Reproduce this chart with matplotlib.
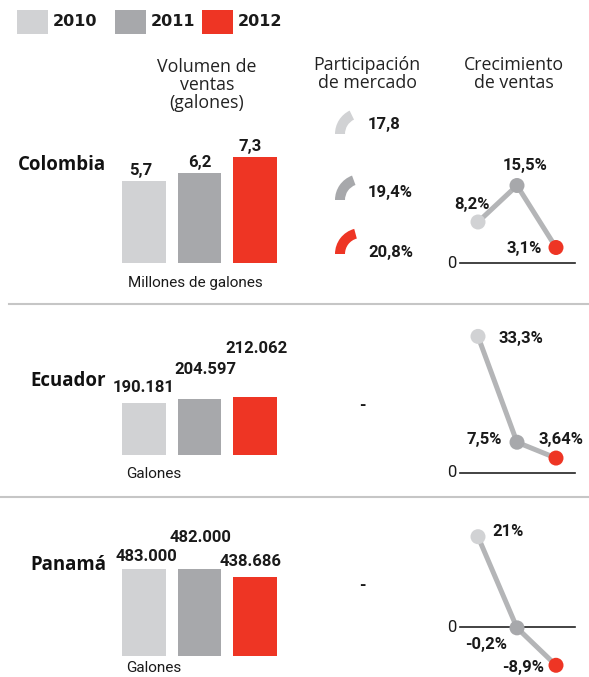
import matplotlib
matplotlib.use("Agg")
import matplotlib.pyplot as plt
from matplotlib.patches import Rectangle, Wedge

# ---- data ----
years = ["2010", "2011", "2012"]
countries = ["Colombia", "Ecuador", "Panamá"]
volume_colombia = [5.7, 6.2, 7.3]            # millones de galones
volume_ecuador = [190181, 204597, 212062]    # galones
volume_panama = [483000, 482000, 438686]     # galones
volume_units = ["Millones de galones", "Galones", "Galones"]
share_colombia = [17.8, 19.4, 20.8]
share_labels = ["17,8", "19,4%", "20,8%"]
growth_colombia = [8.2, 15.5, 3.1]
growth_ecuador = [33.3, 7.5, 3.64]
growth_panama = [21, -0.2, -8.9]
growth_labels = [["8,2%", "15,5%", "3,1%"],
                 ["33,3%", "7,5%", "3,64%"],
                 ["21%", "-0,2%", "-8,9%"]]

colors = ["#d1d2d4", "#a7a8ab", "#ee3524"]
line_color = "#b4b5b7"
text_color = "#1a1a1a"

W, H = 589, 677
fig = plt.figure(figsize=(W / 100, H / 100), dpi=100)
fig.patch.set_facecolor("white")


def px_axes(left, top, right, bottom):
    ax = fig.add_axes([left / W, 1 - bottom / H, (right - left) / W, (bottom - top) / H])
    ax.axis("off")
    return ax


def fmt_thousands(v):
    return f"{v:,}".replace(",", ".")


NUM = dict(family="Roboto", fontweight="bold", fontsize=12, color=text_color)

# ---- bars ----
bar_rows = [
    # values, labels, baseline px, ymax, label offsets (dx, dy) px
    (volume_colombia, [f"{v}".replace(".", ",") for v in volume_colombia], 263, 8.3,
     [(-3, 3), (0, 3), (-5, 3)]),
    (volume_ecuador, [fmt_thousands(v) for v in volume_ecuador], 455, 438900,
     [(0, 8), (6, 22), (1, 41)]),
    (volume_panama, [fmt_thousands(v) for v in volume_panama], 656, 666300,
     [(2, 5), (1, 24), (-4, 8)]),
]
for vals, labels, base, ymax, offs in bar_rows:
    ax = px_axes(110, base - 120, 290, base)
    ax.set_xlim(-0.6126, 2.63)
    ax.set_ylim(0, ymax)
    ax.bar(range(3), vals, width=0.79, color=colors, linewidth=0)
    for i, (v, lab) in enumerate(zip(vals, labels)):
        ax.annotate(lab, xy=(i, v), xytext=offs[i], textcoords="offset pixels",
                    ha="center", va="bottom", annotation_clip=False, **NUM)

# ---- growth lines ----
line_rows = [
    (growth_colombia, 160, 275, (-2.4, 20.6),
     [(-6, 17, "center"), (8, 20, "center"), (-32, -1, "center")]),
    (growth_ecuador, 320, 485, (-2.93, 37.3),
     [(20, -2, "left"), (-15, 3, "right"), (5, 19, "center")]),
    (growth_panama, 520, 675, (-11.16, 24.88),
     [(14, 5, "left"), (-31, -17, "center"), (-33, -2, "center")]),
]
for r, (vals, top, bottom, ylim, offs) in enumerate(line_rows):
    ax = px_axes(458, top, 576, bottom)
    ax.set_xlim(-0.513, 2.513)
    ax.set_ylim(*ylim)
    ax.axhline(0, xmin=0.02, xmax=0.99, color="#222222", lw=1.2, zorder=1)
    ax.text(-0.56, 0, "0", ha="right", va="center", family="Roboto",
            fontsize=12, color=text_color)
    ax.plot(range(3), vals, color=line_color, lw=3.6, zorder=2, solid_capstyle="round")
    ax.scatter(range(3), vals, s=10.8 ** 2, c=colors, zorder=3, linewidths=0, clip_on=False)
    for i, v in enumerate(vals):
        dx, dy, ha = offs[i]
        ax.annotate(growth_labels[r][i], xy=(i, v), xytext=(dx, dy),
                    textcoords="offset pixels", ha=ha, va="center",
                    annotation_clip=False, **NUM)

# ---- overlay (pixel coordinates) ----
ov = fig.add_axes([0, 0, 1, 1], zorder=-1)
ov.set_xlim(0, W)
ov.set_ylim(H, 0)
ov.axis("off")

# legend
leg_x = [17, 115, 202]
for x0, c, y in zip(leg_x, colors, years):
    ov.add_patch(Rectangle((x0, 10), 31, 24, color=c, lw=0))
    ov.text(x0 + 36, 22, y, ha="left", va="center", family="DejaVu Sans",
            fontweight="bold", fontsize=11.5, color=text_color)

HEAD = dict(family="Open Sans", fontsize=12.8, color="#222222", ha="center",
            va="center", linespacing=1.0)
ov.text(207, 85, "Volumen de\nventas\n(galones)", **HEAD)
ov.text(367, 74, "Participación\nde mercado", **HEAD)
ov.text(514, 74, "Crecimiento\nde ventas", **HEAD)

# country names
for name, y in zip(countries, [165, 381, 565]):
    ov.text(106, y, name, ha="right", va="center", family="Open Sans",
            fontweight="bold", fontsize=13.4, color="#111111")

# unit labels
ov.text(195, 283, volume_units[0], ha="center", va="center", family="Roboto",
        fontsize=11, color=text_color)
ov.text(126, 474, volume_units[1], ha="left", va="center", family="Roboto",
        fontsize=11, color=text_color)
ov.text(126, 668, volume_units[2], ha="left", va="center", family="Roboto",
        fontsize=11, color=text_color)

# separators
ov.plot([9, W], [304, 304], color="#c6c6c6", lw=1.5)
ov.plot([0, W], [497, 497], color="#c6c6c6", lw=1.5)

# market share gauges (Colombia only)
gauge_y = [134, 200, 254]
label_y = [125, 193, 253]
for share, lab, gy, ly, c in zip(share_colombia, share_labels, gauge_y, label_y, colors):
    span = share * 3.6
    ov.add_patch(Wedge((361, gy), 26, 180, 180 + span, width=10, color=c, lw=0))
    ov.text(368, ly, lab, ha="left", va="center", **NUM)

# no data for Ecuador / Panamá
ov.text(362, 406, "-", ha="center", va="center", **NUM)
ov.text(362, 586, "-", ha="center", va="center", **NUM)

fig.savefig("out.png", dpi=100, facecolor="white")
